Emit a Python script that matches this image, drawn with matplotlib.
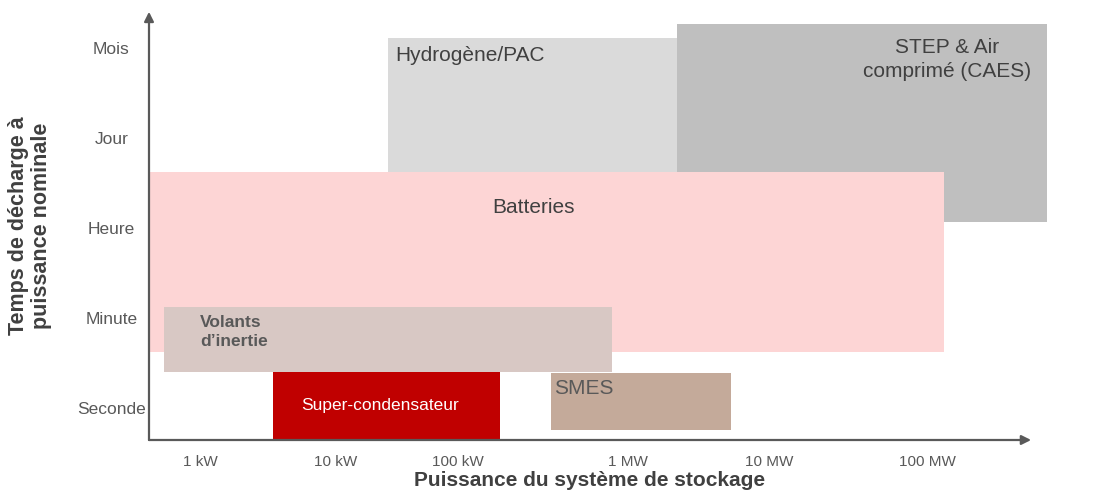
import matplotlib.pyplot as plt
from matplotlib.patches import Rectangle

plt.rcParams['font.family'] = ['Liberation Sans', 'DejaVu Sans']

# axe x : log10 de la puissance (W), axe y : 0 = seconde ... 4 = mois
x_ticks = [3.0, 3.93, 4.77, 5.94, 6.91, 8.0]
x_labels = ["1 kW", "10 kW", "100 kW", "1 MW", "10 MW", "100 MW"]
y_ticks = [0, 1, 2, 3, 4]
y_labels = ["Seconde", "Minute", "Heure", "Jour", "Mois"]

# technologies : (x0, x1, y0, y1)
techs = ["Hydrogène/PAC", "STEP & Air\ncomprimé (CAES)", "Batteries",
         "Volants\nd’inertie", "Super-condensateur", "SMES"]
x_min = [4.29, 6.28, 2.66, 2.75, 3.50, 5.41]
x_max = [6.28, 8.82, 8.11, 5.83, 5.06, 6.65]
y_min = [2.62, 2.07, 0.62, 0.40, -0.36, -0.24]
y_max = [4.11, 4.27, 2.62, 1.12, 0.40, 0.39]
couleurs = ["#dadada", "#bfbfbf", "#fdd5d5", "#d8c8c4", "#c00000", "#c4aa9a"]

fig = plt.figure(figsize=(11.08, 4.93), dpi=100)
ax = fig.add_axes([149/1108, 53/493, 901/1108, 430/493])
ax.set_xlim(2.65, 8.84)
ax.set_ylim(-0.356, 4.42)

for i in range(len(techs)):
    ax.add_patch(Rectangle((x_min[i], y_min[i]), x_max[i]-x_min[i], y_max[i]-y_min[i],
                           facecolor=couleurs[i], edgecolor='none', zorder=i+1))

# textes des blocs
ax.text(4.34, 3.91, techs[0], fontsize=15, color="#404040", va='center', ha='left', zorder=10)
ax.text(8.13, 3.87, techs[1], fontsize=15, color="#404040", va='center', ha='center',
        linespacing=1.35, zorder=10)
ax.text(5.29, 2.23, techs[2], fontsize=15, color="#404040", va='center', ha='center', zorder=10)
ax.text(3.0, 0.84, techs[3], fontsize=12.5, color="#595959", fontweight='bold',
        va='center', ha='left', linespacing=1.35, zorder=10)
ax.text(4.24, 0.03, techs[4], fontsize=12.5, color="white", va='center', ha='center', zorder=10)
ax.text(5.43, 0.22, techs[5], fontsize=15, color="#595959", va='center', ha='left', zorder=10)

# axes avec flèches
for s in ax.spines.values():
    s.set_visible(False)
ax.annotate("", xy=(8.71, -0.356), xytext=(2.65, -0.356),
            arrowprops=dict(arrowstyle="-|>", color="#595959", lw=1.6, mutation_scale=14,
                            shrinkA=0, shrinkB=0), zorder=20)
ax.annotate("", xy=(2.65, 4.4), xytext=(2.65, -0.356),
            arrowprops=dict(arrowstyle="-|>", color="#595959", lw=1.6, mutation_scale=14,
                            shrinkA=0, shrinkB=0), zorder=20)

ax.set_xticks(x_ticks)
ax.set_xticklabels(x_labels, fontsize=11, color="#595959")
ax.set_yticks(y_ticks)
ax.set_yticklabels(y_labels, fontsize=12.5, color="#595959")
ax.tick_params(axis='x', length=0, pad=11)
ax.tick_params(axis='y', length=0, pad=27)
for lab in ax.get_yticklabels():
    lab.set_horizontalalignment('center')

ax.set_xlabel("Puissance du système de stockage", fontsize=15, fontweight='bold', color="#404040")
ax.xaxis.label.set_verticalalignment('center')
ax.xaxis.set_label_coords(0.489, -0.095)
ax.set_ylabel("Temps de décharge à\npuissance nominale", fontsize=15.5, fontweight='bold',
              color="#404040", linespacing=1.1)
ax.yaxis.label.set_verticalalignment('center')
ax.yaxis.set_label_coords(-0.132, 0.498)

fig.savefig("out.png", dpi=100)
